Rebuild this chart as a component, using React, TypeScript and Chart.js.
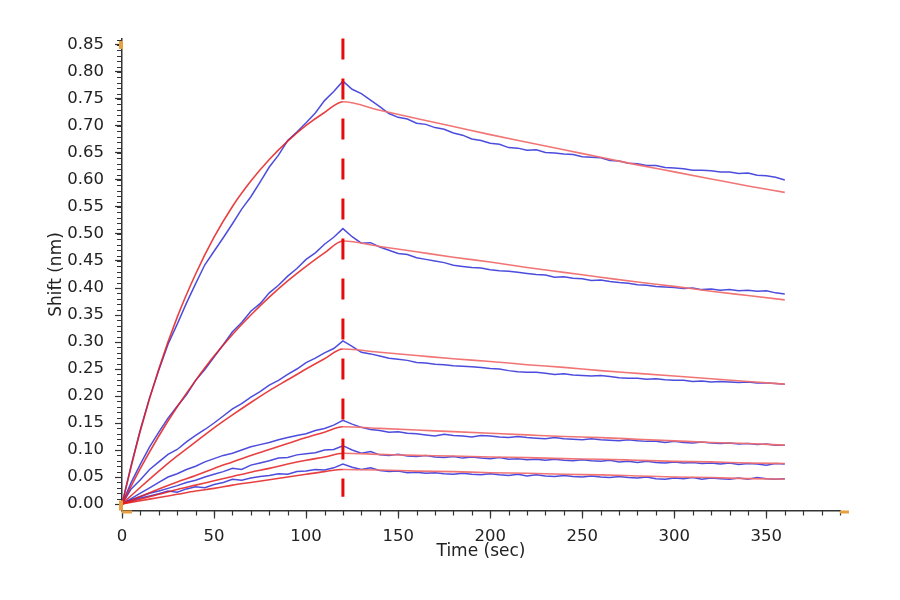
import React, { useEffect, useRef } from 'react'
import Chart from 'chart.js/auto'

// sampling times (s)
const rawTimes = [
  0, 5, 10, 15, 20, 25, 30, 35, 40, 45, 50, 55, 60, 65, 70, 75, 80, 85, 90, 95, 100, 105, 110, 115, 120,
  125, 130, 135, 140, 145, 150, 155, 160, 165, 170, 175, 180, 185, 190, 195, 200, 205, 210, 215, 220, 225,
  230, 235, 240, 245, 250, 255, 260, 265, 270, 275, 280, 285, 290, 295, 300, 305, 310, 315, 320, 325, 330,
  335, 340, 345, 350, 355, 360,
]
const fitTimes = [
  0, 10, 20, 30, 40, 50, 60, 70, 80, 90, 100, 110, 120,
  140, 160, 180, 200, 220, 240, 260, 280, 300, 320, 340, 360,
]

// measured response (nm), blue
const raw1 = [
  0, 0.072, 0.138, 0.197, 0.248, 0.296, 0.333, 0.372, 0.408, 0.443, 0.468, 0.493, 0.519, 0.546, 0.569, 0.596, 0.624, 0.646, 0.673, 0.689, 0.706, 0.724, 0.747, 0.764, 0.783,
  0.768, 0.760, 0.748, 0.736, 0.723, 0.716, 0.713, 0.705, 0.703, 0.697, 0.694, 0.687, 0.683, 0.676, 0.673, 0.668, 0.666, 0.660, 0.659, 0.655, 0.656, 0.651, 0.650, 0.648,
  0.647, 0.643, 0.642, 0.641, 0.636, 0.635, 0.631, 0.630, 0.627, 0.627, 0.623, 0.622, 0.621, 0.618, 0.618, 0.617, 0.615, 0.615, 0.612, 0.613, 0.609, 0.608, 0.605, 0.600,
]
const raw2 = [
  0, 0.040, 0.074, 0.106, 0.133, 0.159, 0.181, 0.202, 0.229, 0.249, 0.272, 0.295, 0.319, 0.336, 0.357, 0.371, 0.391, 0.405, 0.422, 0.436, 0.453, 0.465, 0.481, 0.494, 0.510,
  0.495, 0.483, 0.484, 0.476, 0.470, 0.464, 0.462, 0.456, 0.453, 0.450, 0.447, 0.442, 0.440, 0.438, 0.437, 0.434, 0.432, 0.431, 0.429, 0.427, 0.425, 0.424, 0.420, 0.421,
  0.418, 0.417, 0.414, 0.415, 0.412, 0.410, 0.409, 0.406, 0.405, 0.403, 0.402, 0.401, 0.399, 0.400, 0.397, 0.398, 0.396, 0.397, 0.395, 0.396, 0.394, 0.395, 0.391, 0.389,
]
const raw3 = [
  0, 0.028, 0.045, 0.064, 0.078, 0.092, 0.101, 0.115, 0.127, 0.138, 0.150, 0.163, 0.176, 0.186, 0.198, 0.208, 0.220, 0.229, 0.240, 0.250, 0.262, 0.270, 0.280, 0.288, 0.302,
  0.292, 0.281, 0.278, 0.274, 0.270, 0.268, 0.266, 0.262, 0.261, 0.259, 0.258, 0.256, 0.255, 0.254, 0.253, 0.251, 0.250, 0.247, 0.245, 0.244, 0.244, 0.242, 0.240, 0.241,
  0.239, 0.238, 0.237, 0.238, 0.236, 0.234, 0.233, 0.233, 0.231, 0.232, 0.230, 0.229, 0.229, 0.227, 0.228, 0.226, 0.227, 0.226, 0.225, 0.226, 0.224, 0.224, 0.223, 0.222,
]
const raw4 = [
  0, 0.010, 0.020, 0.030, 0.040, 0.050, 0.056, 0.064, 0.070, 0.078, 0.084, 0.090, 0.094, 0.100, 0.106, 0.110, 0.114, 0.119, 0.123, 0.127, 0.130, 0.136, 0.140, 0.146, 0.155,
  0.148, 0.142, 0.138, 0.136, 0.133, 0.134, 0.131, 0.130, 0.128, 0.126, 0.129, 0.127, 0.126, 0.124, 0.127, 0.126, 0.124, 0.123, 0.125, 0.123, 0.122, 0.121, 0.123, 0.121,
  0.120, 0.119, 0.121, 0.119, 0.118, 0.117, 0.119, 0.117, 0.116, 0.116, 0.114, 0.116, 0.114, 0.113, 0.115, 0.113, 0.112, 0.113, 0.111, 0.112, 0.110, 0.111, 0.109, 0.109,
]
const raw5 = [
  0, 0.008, 0.014, 0.020, 0.024, 0.029, 0.034, 0.040, 0.044, 0.050, 0.055, 0.060, 0.066, 0.064, 0.072, 0.076, 0.080, 0.085, 0.086, 0.091, 0.093, 0.095, 0.100, 0.101, 0.108,
  0.100, 0.094, 0.097, 0.091, 0.090, 0.092, 0.089, 0.088, 0.090, 0.087, 0.086, 0.088, 0.085, 0.087, 0.085, 0.084, 0.086, 0.083, 0.084, 0.082, 0.083, 0.081, 0.083, 0.081,
  0.080, 0.082, 0.080, 0.079, 0.081, 0.078, 0.079, 0.077, 0.079, 0.077, 0.076, 0.078, 0.076, 0.077, 0.075, 0.076, 0.074, 0.076, 0.073, 0.075, 0.074, 0.072, 0.075, 0.074,
]
const raw6 = [
  0, 0.006, 0.011, 0.015, 0.019, 0.024, 0.022, 0.028, 0.032, 0.030, 0.036, 0.040, 0.046, 0.044, 0.048, 0.051, 0.053, 0.056, 0.055, 0.060, 0.061, 0.064, 0.063, 0.067, 0.074,
  0.068, 0.064, 0.067, 0.062, 0.060, 0.061, 0.058, 0.059, 0.057, 0.058, 0.056, 0.055, 0.057, 0.055, 0.054, 0.056, 0.054, 0.053, 0.055, 0.052, 0.054, 0.052, 0.051, 0.053,
  0.051, 0.050, 0.052, 0.050, 0.049, 0.051, 0.049, 0.048, 0.050, 0.047, 0.046, 0.048, 0.047, 0.049, 0.046, 0.048, 0.047, 0.046, 0.048, 0.046, 0.049, 0.047, 0.046, 0.047,
]

// global fit (nm), red
const fit1 = [0, 0.136, 0.250, 0.346, 0.426, 0.494, 0.551, 0.598, 0.638, 0.672, 0.701, 0.725, 0.745, 0.729, 0.714, 0.699, 0.684, 0.670, 0.656, 0.642, 0.628, 0.615, 0.602, 0.589, 0.577]
const fit2 = [0, 0.066, 0.126, 0.180, 0.229, 0.274, 0.314, 0.350, 0.383, 0.413, 0.440, 0.465, 0.487, 0.477, 0.467, 0.457, 0.448, 0.438, 0.429, 0.420, 0.411, 0.403, 0.394, 0.386, 0.378]
const fit3 = [0, 0.031, 0.061, 0.089, 0.115, 0.141, 0.165, 0.188, 0.210, 0.230, 0.250, 0.269, 0.287, 0.281, 0.275, 0.269, 0.264, 0.258, 0.253, 0.247, 0.242, 0.237, 0.232, 0.227, 0.222]
const fit4 = [0, 0.014, 0.028, 0.041, 0.053, 0.066, 0.078, 0.090, 0.101, 0.112, 0.123, 0.133, 0.143, 0.140, 0.137, 0.134, 0.131, 0.128, 0.125, 0.123, 0.120, 0.117, 0.114, 0.112, 0.109]
const fit5 = [0, 0.009, 0.018, 0.027, 0.035, 0.043, 0.051, 0.059, 0.066, 0.074, 0.081, 0.087, 0.094, 0.092, 0.090, 0.089, 0.087, 0.086, 0.084, 0.083, 0.081, 0.079, 0.078, 0.076, 0.075]
const fit6 = [0, 0.006, 0.012, 0.018, 0.024, 0.029, 0.035, 0.040, 0.045, 0.050, 0.055, 0.060, 0.064, 0.063, 0.061, 0.060, 0.058, 0.057, 0.055, 0.054, 0.052, 0.050, 0.049, 0.047, 0.046]

// association -> dissociation switch
const switchTime = [120, 120]
const switchShift = [0.862, 0.0135]

const xTickValues = [0, 50, 100, 150, 200, 250, 300, 350]
const yTickValues = [0, 0.05, 0.1, 0.15, 0.2, 0.25, 0.3, 0.35, 0.4, 0.45, 0.5, 0.55, 0.6, 0.65, 0.7, 0.75, 0.8, 0.85]

const rawSeries = [raw1, raw2, raw3, raw4, raw5, raw6]
const fitSeries = [fit1, fit2, fit3, fit4, fit5, fit6]

const FONT = '"DejaVu Sans", sans-serif'
const AXIS = '#333'
const ORANGE = '#e6a040'

const toPoints = (xs: number[], ys: number[]) => xs.map((x, i) => ({ x, y: ys[i] }))

// minor ticks and the little orange end handles on the axes
const axisDecor = {
  id: 'axisDecor',
  afterDraw(chart: any) {
    const { ctx, chartArea, scales } = chart
    const { left, right, bottom } = chartArea
    ctx.save()
    ctx.strokeStyle = AXIS
    ctx.lineWidth = 1.2
    ctx.beginPath()
    for (let i = 0; i <= 86; i++) {
      const py = Math.round(scales.y.getPixelForValue(i / 100)) + 0.5
      ctx.moveTo(left - 5, py)
      ctx.lineTo(left, py)
    }
    for (let i = 0; i <= 39; i++) {
      const px = Math.round(scales.x.getPixelForValue(i * 10)) + 0.5
      ctx.moveTo(px, bottom)
      ctx.lineTo(px, bottom + 5)
    }
    ctx.stroke()
    ctx.fillStyle = ORANGE
    const topPx = scales.y.getPixelForValue(0.85)
    ctx.fillRect(left - 3, topPx - 4, 4, 8)
    ctx.fillRect(left - 3, bottom - 10, 4, 10)
    ctx.fillRect(left, bottom, 10, 3)
    ctx.fillRect(right, bottom, 9, 3)
    ctx.restore()
  },
}

const KineticsChart: React.FC = () => {
  const chartRef = useRef<HTMLCanvasElement | null>(null)
  const chartInstance = useRef<Chart | null>(null)

  useEffect(() => {
    if (!chartRef.current) return
    if (chartInstance.current) chartInstance.current.destroy()
    const ctx = chartRef.current.getContext('2d')
    if (!ctx) return

    const fitSets = fitSeries.map((ys, i) => ({
      label: `fit ${i + 1}`,
      data: toPoints(fitTimes, ys),
      borderColor: 'rgba(228, 30, 30, 0.85)',
      segment: {
        borderColor: (c: any) =>
          c.p0.parsed.x >= 120 ? 'rgba(240, 110, 110, 0.95)' : 'rgba(228, 30, 30, 0.85)',
      },
      borderWidth: 1.6,
      pointRadius: 0,
      cubicInterpolationMode: 'monotone' as const,
      order: 1,
    }))
    const rawSets = rawSeries.map((ys, i) => ({
      label: `raw ${i + 1}`,
      data: toPoints(rawTimes, ys),
      borderColor: 'rgba(45, 45, 215, 0.85)',
      borderWidth: 1.5,
      pointRadius: 0,
      tension: 0,
      order: 2,
    }))

    chartInstance.current = new Chart(ctx, {
      type: 'line',
      data: {
        datasets: [
          {
            label: 'switch',
            data: toPoints(switchTime, switchShift),
            borderColor: 'rgb(230, 10, 10)',
            borderWidth: 3,
            borderDash: [21, 19],
            pointRadius: 0,
            clip: false,
            order: 0,
          },
          ...fitSets,
          ...rawSets,
        ],
      },
      options: {
        animation: false,
        responsive: true,
        maintainAspectRatio: false,
        layout: { padding: { left: 46, right: 60, top: 38.5, bottom: 29.5 } },
        plugins: { legend: { display: false }, tooltip: { enabled: false } },
        scales: {
          x: {
            type: 'linear',
            min: 0,
            max: 390,
            afterBuildTicks: (scale: any) => {
              scale.ticks = xTickValues.map((value) => ({ value }))
            },
            afterFit: (scale: any) => {
              scale.height = 60
            },
            ticks: {
              autoSkip: false,
              maxRotation: 0,
              padding: 8,
              color: '#222',
              font: { family: FONT, size: 16.5 },
              callback: (v: any) => String(v),
            },
            grid: { drawOnChartArea: false, drawTicks: true, tickLength: 8, tickWidth: 1.2, tickColor: AXIS },
            border: { display: true, color: AXIS, width: 1.5 },
            title: {
              display: true,
              text: 'Time (sec)',
              color: '#222',
              font: { family: FONT, size: 17 },
              padding: { top: 0, bottom: 9 },
            },
          },
          y: {
            type: 'linear',
            min: -0.012,
            max: 0.862,
            afterBuildTicks: (scale: any) => {
              scale.ticks = yTickValues.map((value) => ({ value }))
            },
            afterFit: (scale: any) => {
              scale.width = 76
            },
            ticks: {
              autoSkip: false,
              padding: 11,
              color: '#222',
              font: { family: FONT, size: 16.5 },
              callback: (v: any) => Number(v).toFixed(2),
            },
            grid: { drawOnChartArea: false, drawTicks: true, tickLength: 7, tickWidth: 1.2, tickColor: AXIS },
            border: { display: true, color: AXIS, width: 1.5 },
            title: {
              display: true,
              text: 'Shift (nm)',
              color: '#222',
              font: { family: FONT, size: 17 },
              padding: { top: 0, bottom: 0 },
            },
          },
        },
      },
      plugins: [axisDecor],
    } as any)

    return () => {
      if (chartInstance.current) {
        chartInstance.current.destroy()
        chartInstance.current = null
      }
    }
  }, [])

  return (
    <div style={{ position: 'fixed', left: 0, top: 0, width: 900, height: 600, background: '#fff' }}>
      <canvas ref={chartRef} />
    </div>
  )
}

export default function App() {
  return <KineticsChart />
}
